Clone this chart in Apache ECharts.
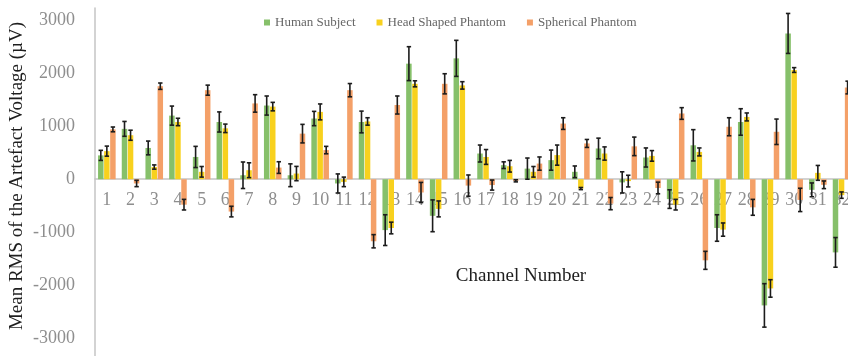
<!DOCTYPE html>
<html>
<head>
<meta charset="utf-8">
<script src="https://cdn.jsdelivr.net/npm/echarts@6/dist/echarts.min.js"></script>
<style>
  html, body { margin: 0; padding: 0; background: #ffffff; }
  #chart { width: 848px; height: 356px; }
</style>
</head>
<body>
<div id="chart"></div>
<script>
// Channel numbers on the x axis
const channels = ['1','2','3','4','5','6','7','8','9','10','11','12','13','14','15','16',
                  '17','18','19','20','21','22','23','24','25','26','27','28','29','30','31','32'];

// Mean RMS of the artefact voltage (µV) per channel, with error (± µV)
const humanSubject = [450, 950, 590, 1200, 420, 1080, 75, 1390, 75, 1145, -80, 1080, -960, 2180, -690, 2280,
                      485, 265, 200, 360, 140, 580, -60, 410, -375, 640, -920, 1080, -2380, 2750, -200, -1380];
const humanSubjectErr = [95, 140, 130, 180, 200, 190, 250, 180, 215, 135, 180, 205, 290, 320, 300, 340,
                         160, 63, 200, 190, 110, 195, 200, 180, 175, 295, 250, 250, 410, 377, 130, 280];

const headPhantom = [530, 830, 230, 1080, 140, 960, 170, 1370, 107, 1270, -50, 1090, -920, 1800, -560, 1770,
                     420, 245, 140, 455, -176, 485, -35, 440, -480, 515, -950, 1175, -2060, 2060, 120, -300];
const headPhantomErr = [95, 95, 40, 70, 100, 80, 140, 80, 135, 150, 90, 70, 110, 57, 150, 70,
                        140, 110, 100, 190, 20, 125, 110, 100, 100, 75, 125, 75, 165, 45, 140, 60];

const sphericalPhantom = [940, -80, 1755, -480, 1680, -610, 1430, 220, 860, 550, 1680, -1170, 1400, -250, 1800, -120,
                          -110, -30, 295, 1050, 675, -460, 620, -165, 1240, -1530, 990, -530, 895, -390, -105, 1730];
const sphericalPhantomErr = [45, 60, 60, 100, 95, 100, 165, 110, 175, 70, 125, 125, 170, 190, 190, 200,
                             95, 20, 125, 110, 75, 115, 175, 110, 110, 170, 170, 150, 240, 220, 72, 120];

// Y-axis labels
const yTicks = [-3000, -2000, -1000, 0, 1000, 2000, 3000];

const seriesNames = ['Human Subject', 'Head Shaped Phantom', 'Spherical Phantom'];
const colors = ['#86c06a', '#f8d11e', '#f4a068'];
const BAR_W = 5.5;
const BAR_GAP = 0.1;
const SERIF = '"Liberation Serif", "DejaVu Serif", serif';

// Plot area and value range
const GRID_TOP = 8;
const GRID_H = 352;
const Y_MIN = -3410;
const Y_MAX = 3230;
// distance from the bottom of the plot up to the zero line, used to sit the channel axis on zero
const zeroLift = GRID_H * (0 - Y_MIN) / (Y_MAX - Y_MIN);

const chart = echarts.init(document.getElementById('chart'), null, { renderer: 'canvas' });

// Whiskers drawn as a custom series, offset to sit on the matching bar of the group
function errorRenderer(k) {
  return function (params, api) {
    const idx = api.value(0);
    const v = api.value(1);
    const e = api.value(2);
    const dx = (k - 1) * BAR_W * (1 + BAR_GAP);
    const hi = api.coord([idx, v + e]);
    const lo = api.coord([idx, v - e]);
    const x = hi[0] + dx;
    const cap = 2.2;
    const style = { stroke: '#1c1c1c', lineWidth: 1.6 };
    return {
      type: 'group',
      children: [
        { type: 'line', shape: { x1: x, y1: hi[1], x2: x, y2: lo[1] }, style: style },
        { type: 'line', shape: { x1: x - cap, y1: hi[1], x2: x + cap, y2: hi[1] }, style: style },
        { type: 'line', shape: { x1: x - cap, y1: lo[1], x2: x + cap, y2: lo[1] }, style: style }
      ]
    };
  };
}

const values = [humanSubject, headPhantom, sphericalPhantom];
const errors = [humanSubjectErr, headPhantomErr, sphericalPhantomErr];

const barSeries = values.map((vals, k) => ({
  name: seriesNames[k],
  type: 'bar',
  data: vals,
  barWidth: BAR_W,
  barGap: (BAR_GAP * 100) + '%',
  itemStyle: { color: colors[k] },
  z: 2
}));

const errSeries = values.map((vals, k) => ({
  type: 'custom',
  name: seriesNames[k] + ' error',
  renderItem: errorRenderer(k),
  encode: { x: 0, y: 1 },
  data: vals.map((v, i) => [i, v, errors[k][i]]),
  z: 5,
  silent: true
}));

chart.setOption({
  animation: false,
  backgroundColor: '#ffffff',
  legend: {
    data: seriesNames,
    left: 259,
    top: 11,
    icon: 'rect',
    itemWidth: 6,
    itemHeight: 6,
    itemGap: 21,
    textStyle: { fontFamily: SERIF, fontSize: 13, color: '#666666' }
  },
  grid: { left: 95, top: GRID_TOP, width: 758.4, height: GRID_H, containLabel: false, outerBoundsMode: 'none' },
  xAxis: {
    type: 'category',
    data: channels,
    position: 'bottom',
    offset: -zeroLift,
    axisLine: { onZero: false, lineStyle: { color: '#c4c4c4', width: 1.5 } },
    axisTick: { show: false },
    axisLabel: { fontFamily: SERIF, fontSize: 18, color: '#8e8e8e', margin: 12, interval: 0 },
    splitLine: { show: false },
    z: 1
  },
  yAxis: {
    type: 'value',
    min: Y_MIN,
    max: Y_MAX,
    axisLine: { show: true, onZero: false, lineStyle: { color: '#c4c4c4', width: 1.5 } },
    axisTick: { show: false },
    splitLine: { show: false },
    axisLabel: {
      customValues: yTicks,
      formatter: (v) => String(v),
      fontFamily: SERIF, fontSize: 18, color: '#8e8e8e', margin: 20
    }
  },
  graphic: [
    {
      type: 'text',
      x: 17, y: 176,
      rotation: Math.PI / 2,
      style: {
        text: 'Mean RMS of the Artefact Voltage (µV)',
        font: '19px ' + SERIF,
        fill: '#1e1e1e',
        align: 'center',
        verticalAlign: 'middle'
      }
    },
    {
      type: 'text',
      x: 521, y: 276,
      style: {
        text: 'Channel Number',
        font: '19px ' + SERIF,
        fill: '#1e1e1e',
        align: 'center',
        verticalAlign: 'middle'
      }
    }
  ],
  series: barSeries.concat(errSeries)
});
</script>
</body>
</html>
